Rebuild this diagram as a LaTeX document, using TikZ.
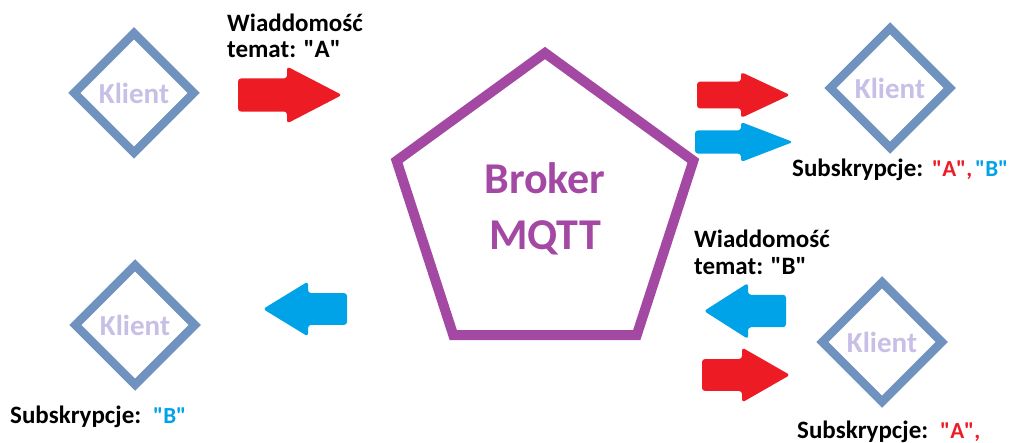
\documentclass[tikz,border=0pt]{standalone}
\usepackage{fontspec}
\setmainfont{Carlito}
\usetikzlibrary{shapes.geometric}
\definecolor{paintred}{HTML}{ED1C24}
\definecolor{paintblue}{HTML}{00A2E8}
\definecolor{brokerpurple}{HTML}{A349A4}
\definecolor{clientframe}{HTML}{7092BE}
\definecolor{clienttext}{HTML}{C8BFE7}
\tikzstyle{client}=[diamond, draw=clientframe, line width=8.5pt, minimum size=123pt,
  inner sep=0pt, text=clienttext, font=\bfseries\fontsize{29}{30}\selectfont]
\tikzstyle{broker}=[regular polygon, regular polygon sides=5, draw=brokerpurple,
  line width=10pt, minimum size=312pt, inner sep=0pt, text=brokerpurple,
  align=center, font=\bfseries\fontsize{44}{56}\selectfont]
\tikzstyle{note}=[anchor=base west, inner sep=0pt, font=\bfseries\fontsize{25}{26}\selectfont]
\tikzstyle{topic}=[note, font=\bfseries\fontsize{23}{26}\selectfont]
\newcommand{\client}{\node[client]}
\newcommand{\qt}[1]{\textquotedbl#1\textquotedbl}
% block arrow: colour, y, tail x, head x, tip x, half height of the head
\newcommand{\msgarrow}[6]{\fill[#1, rounded corners=3pt]
  (#3,{#2-0.58*#6}) -- (#4,{#2-0.58*#6}) -- (#4,{#2-#6}) -- (#5,#2)
  -- (#4,{#2+#6}) -- (#4,{#2+0.58*#6}) -- (#3,{#2+0.58*#6}) -- cycle;}

\begin{document}
\begin{tikzpicture}[x=1pt, y=-1pt]
\clip (0,0) rectangle (1011,443);
\fill[white] (0,0) rectangle (1011,443);

\node[broker] (broker) at (545,209) {Broker\\MQTT};

\client (k1) at (134,93) {Klient};
\client (k2) at (135,325) {Klient};
\client (k3) at (890,88) {Klient};
\client (k4) at (882,342) {Klient};

% publishing and delivery
\msgarrow{paintred}{95}{238}{287}{342}{28.5}
\msgarrow{paintred}{95}{697}{741}{790}{23}
\msgarrow{paintblue}{142}{695}{741}{793}{20}
\msgarrow{paintblue}{309}{347}{308}{263}{27.5}
\msgarrow{paintblue}{311}{786}{748}{704}{28}
\msgarrow{paintred}{375}{702}{742}{790}{27.5}

\node[note] (pubA) at (227,32) {Wiaddomość};
\node[note] (topicA) at (227,58) {temat: \qt{A}};
\node[note] (pubB) at (694,248) {Wiaddomość};
\node[note] (topicB) at (694,275) {temat: \qt{B}};

\node[note] (sub3) at (792,177) {Subskrypcje:};
\node[topic, text=paintred] (sub3a) at (932,177) {\qt{A},};
\node[topic, text=paintblue] (sub3b) at (975,177) {\qt{B}};
\node[note] (sub2) at (10,423) {Subskrypcje:};
\node[topic, text=paintblue] (sub2b) at (153,423) {\qt{B}};
\node[note] (sub4) at (797,438) {Subskrypcje:};
\node[topic, text=paintred] (sub4a) at (940,438) {\qt{A},};
\end{tikzpicture}
\end{document}
